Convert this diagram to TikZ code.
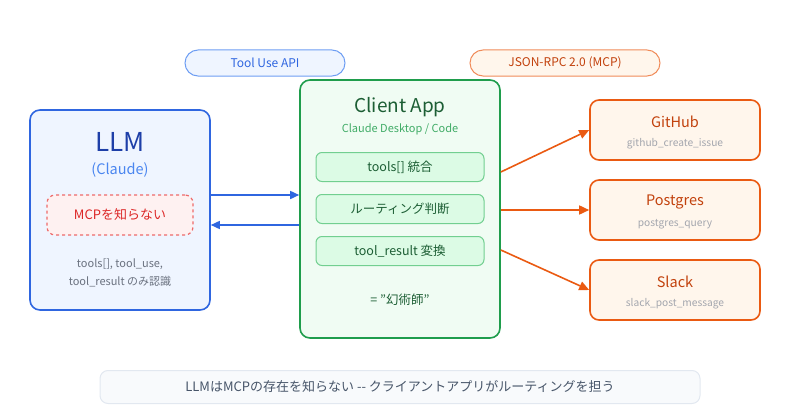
\documentclass[tikz,border=0pt]{standalone}
\usepackage{fontspec}
\setmainfont{Noto Sans CJK JP}
\usetikzlibrary{arrows.meta}

\definecolor{llmblue}{HTML}{2F66E0}
\definecolor{llmfill}{HTML}{EFF5FF}
\definecolor{llmdark}{HTML}{1E3FA8}
\definecolor{llmlight}{HTML}{4A86F0}
\definecolor{appgreen}{HTML}{1F9D4C}
\definecolor{appfill}{HTML}{F0FCF3}
\definecolor{appdark}{HTML}{1C5E34}
\definecolor{stepfill}{HTML}{DCFBE5}
\definecolor{stepline}{HTML}{72CF90}
\definecolor{srvorange}{HTML}{EA5A12}
\definecolor{srvfill}{HTML}{FFF6EC}
\definecolor{srvdark}{HTML}{C2410C}
\definecolor{mutedgray}{HTML}{6B7280}
\definecolor{lightgray}{HTML}{A3A6AE}
\definecolor{warnred}{HTML}{EE6A6A}
\definecolor{warnfill}{HTML}{FEF1F1}
\definecolor{warntext}{HTML}{DC2626}
\definecolor{notefill}{HTML}{F8FAFC}
\definecolor{noteline}{HTML}{E2E8F0}
\definecolor{notetext}{HTML}{475569}

\begin{document}
\begin{tikzpicture}[
  x=1pt, y=-1pt,
  every node/.style={align=center, inner sep=0pt},
  bigbox/.style={draw, line width=1.6pt, rounded corners=10pt},
  stepbox/.style={draw=stepline, fill=stepfill, line width=1pt, rounded corners=6pt, minimum width=168pt, minimum height=29pt, font=\fontsize{12.5}{14}\selectfont, text=appdark},
  srvbox/.style={draw=srvorange, fill=srvfill, line width=1.6pt, rounded corners=9pt, minimum width=170pt, minimum height=60pt},
  srvtitle/.style={font=\fontsize{14.5}{16}\selectfont, text=srvdark},
  srvtool/.style={font=\fontsize{10.2}{12}\selectfont, text=lightgray},
  pill/.style={draw, line width=1pt, rounded corners=13pt, minimum height=26pt, font=\fontsize{12}{14}\selectfont},
  bluearrow/.style={draw=llmblue, line width=1.6pt, -{Triangle[length=9pt, width=8pt]}},
  orangearrow/.style={draw=srvorange, line width=1.6pt, -{Triangle[length=10pt, width=9pt]}}
]
\useasboundingbox (0,0) rectangle (800,420);

% Protocol labels
\node[pill, draw=llmlight!80, fill=llmfill, text=llmblue, minimum width=160pt] (toolapi) at (265,63) {Tool Use API};
\node[pill, draw=srvorange!70, fill=srvfill, text=srvdark, minimum width=190pt] (jsonrpc) at (565,63) {JSON-RPC 2.0 (MCP)};

% LLM
\node[bigbox, draw=llmblue, fill=llmfill, minimum width=180pt, minimum height=200pt] (llm) at (120,210) {};
\node[font=\fontsize{26}{28}\selectfont, text=llmdark] (llmtitle) at (120,142) {LLM};
\node[font=\fontsize{14.5}{16}\selectfont, text=llmlight] (llmsub) at (120,170) {(Claude)};
\node[draw=warnred, dashed, line width=1.2pt, fill=warnfill, rounded corners=8pt, minimum width=146pt, minimum height=40pt, font=\fontsize{13}{15}\selectfont, text=warntext] (nomcp) at (120,215) {MCPを知らない};
\node[font=\fontsize{11}{18}\selectfont, text=mutedgray] (llmnote) at (120,273) {tools[], tool\_use,\\tool\_result のみ認識};

% Client App
\node[bigbox, draw=appgreen, fill=appfill, minimum width=200pt, minimum height=258pt] (client) at (400,209) {};
\node[font=\fontsize{19}{21}\selectfont, text=appdark] (clienttitle) at (400,107) {Client App};
\node[font=\fontsize{11}{13}\selectfont, text=appgreen!85] (clientsub) at (400,129) {Claude Desktop / Code};
\node[stepbox] (merge) at (400,167) {tools[] 統合};
\node[stepbox] (route) at (400,209) {ルーティング判断};
\node[stepbox] (convert) at (400,251) {tool\_result 変換};
\node[font=\fontsize{12.5}{14}\selectfont, text=appdark] (illusion) at (400,300) {= "幻術師"};

% MCP servers
\node[srvbox] (github) at (675,130) {};
\node[srvtitle] (ghname) at (675,122) {GitHub};
\node[srvtool] (ghtool) at (675,144) {github\_create\_issue};
\node[srvbox] (postgres) at (675,210) {};
\node[srvtitle] (pgname) at (675,202) {Postgres};
\node[srvtool] (pgtool) at (675,224) {postgres\_query};
\node[srvbox] (slack) at (675,290) {};
\node[srvtitle] (slname) at (675,282) {Slack};
\node[srvtool] (sltool) at (675,304) {slack\_post\_message};

% Bottom note
\node[draw=noteline, fill=notefill, line width=1pt, rounded corners=8pt, minimum width=600pt, minimum height=33pt, font=\fontsize{13}{15}\selectfont, text=notetext] (note) at (400,387) {LLMはMCPの存在を知らない -{}- クライアントアプリがルーティングを担う};

% Arrow rows
\coordinate (req) at (0,195);
\coordinate (res) at (0,225);
\coordinate (out1) at (0,172);
\coordinate (out3) at (0,250);

% LLM <-> Client
\draw[bluearrow] (llm.east |- req) -- (client.west |- req);
\draw[bluearrow] (client.west |- res) -- (llm.east |- res);

% Client -> servers
\draw[orangearrow] (client.east |- out1) -- (github.west);
\draw[orangearrow] (client.east |- postgres.west) -- (postgres.west);
\draw[orangearrow] (client.east |- out3) -- (slack.west);

\end{tikzpicture}
\end{document}
